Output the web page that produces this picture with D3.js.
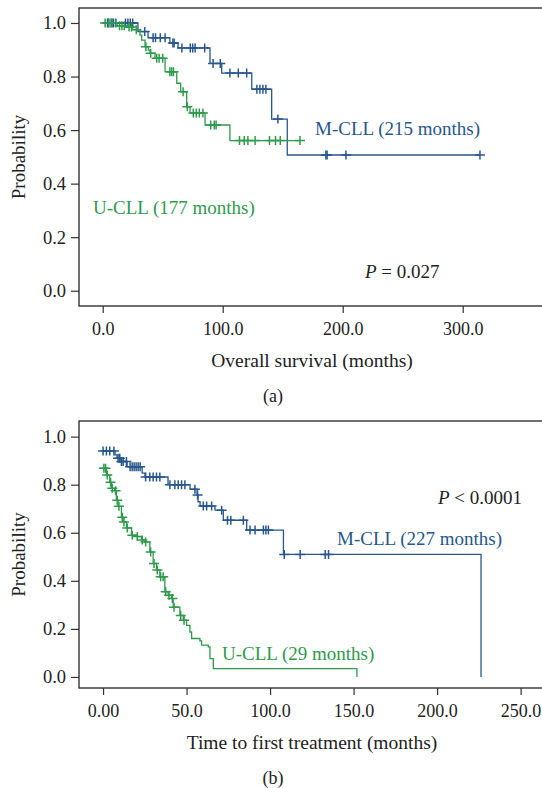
<!DOCTYPE html>
<html lang="en">
<head>
<meta charset="UTF-8">
<script src="https://d3js.org/d3.v7.min.js"></script>
<title>Kaplan-Meier CLL</title>
<style>
  body { margin: 0; background: #fff; }
  svg text { font-family: "Liberation Serif", "Times New Roman", serif; fill: #222; }
</style>
</head>
<body>
<div id="chart"></div>
<script>

// ---- panel (a): overall survival ----
const osTicksX = [0, 100, 200, 300];
const osTickLabelsX = ["0.0", "100.0", "200.0", "300.0"];

const osMTimes = [0, 29.4, 37.8, 56, 62.8, 89.4, 99.2, 124.2, 140.8, 153.8, 314.4];
const osMSurv = [1.0, 0.968, 0.945, 0.925, 0.907, 0.849, 0.813, 0.753, 0.641, 0.507, 0.507];
const osMCensor = [4, 5, 7, 9, 11, 19, 21, 23, 25, 35, 42, 44, 48, 52, 58.5, 59.5, 66, 73, 75, 77, 85,
  92, 98, 106, 113, 120, 128.5, 131, 133.5, 136, 146, 186, 187, 202.7, 314.4];

const osUTimes = [0, 12, 20, 25, 31, 32.5, 35.3, 38, 39.4, 43.6, 52, 61.7, 65, 70, 72.8, 85.3, 106, 164.4];
const osUSurv = [1.0, 0.99, 0.985, 0.975, 0.955, 0.936, 0.911, 0.899, 0.887, 0.868, 0.818, 0.775, 0.743,
  0.687, 0.664, 0.619, 0.561, 0.561];
const osUCensor = [2, 5, 8, 14, 16, 18, 22, 24, 28, 36, 40, 45, 47, 50, 56, 57.5, 59, 67, 70.5, 75.5, 78,
  80.5, 83.5, 90, 93, 94.5, 114, 118, 121, 127, 139, 144, 148, 164.4];

// ---- panel (b): time to first treatment ----
const ttTicksX = [0, 50, 100, 150, 200, 250];
const ttTickLabelsX = ["0.00", "50.0", "100.0", "150.0", "200.0", "250.0"];

const ttMTimes = [0, 7.2, 8.4, 10.2, 14.4, 23.4, 25.1, 38.9, 52.1, 56.3, 56.9, 58.1, 67, 72, 86, 108, 226.3];
const ttMSurv = [0.94, 0.924, 0.91, 0.896, 0.875, 0.848, 0.832, 0.80, 0.781, 0.757, 0.729, 0.711, 0.694,
  0.652, 0.611, 0.51, 0];
const ttMCensor = [0, 2, 4, 6.5, 9, 10, 11, 12, 14, 16.2, 17.4, 18.6, 19.8, 21, 22.2, 25.5, 28, 30, 32, 34,
  40, 43, 45, 47, 49, 55, 56.6, 60, 62, 65, 71, 74.5, 76.5, 84, 88, 91, 96, 97.5, 99, 108.5, 118, 133, 135];

const ttUTimes = [0, 2, 4, 5, 7, 8, 9, 11, 12, 14, 17, 20, 23, 25, 28, 30, 32, 34, 37, 39, 41, 42, 46, 48,
  50, 52, 53, 58, 59, 63, 64, 66, 152];
const ttUSurv = [0.868, 0.84, 0.81, 0.785, 0.775, 0.735, 0.71, 0.665, 0.645, 0.62, 0.59, 0.584, 0.57, 0.562,
  0.52, 0.472, 0.445, 0.417, 0.354, 0.34, 0.326, 0.29, 0.256, 0.236, 0.215, 0.187, 0.16, 0.15, 0.132, 0.125,
  0.076, 0.035, 0];
const ttUCensor = [0.5, 1.5, 2.5, 4.5, 5.5, 7.5, 8.5, 9.5, 11.5, 12.5, 14.5, 17.5, 20.5, 23.5, 25.5, 28.5,
  30.5, 32.5, 34.5, 36, 37.5, 39.5, 41.5, 42.5, 46.5, 48.5];

const probTicks = [0, 0.2, 0.4, 0.6, 0.8, 1.0];

const BLUE = "#27578c", GREEN = "#2f9a4c", AXIS = "#333";

const svg = d3.select("#chart").append("svg")
  .attr("width", 542).attr("height", 788);

const drawPanel = cfg => {
  const x = d3.scaleLinear().domain(cfg.xDomain).range([79, 544]);
  const y = d3.scaleLinear().domain(cfg.yDomain).range([cfg.bottom, cfg.top]);
  const g = svg.append("g");

  // frame (right side runs just past the picture)
  g.append("rect")
    .attr("x", 79).attr("y", cfg.top)
    .attr("width", 465).attr("height", cfg.bottom - cfg.top)
    .attr("fill", "none").attr("stroke", AXIS).attr("stroke-width", 1.4);

  const yAxis = d3.axisLeft(y).tickValues(probTicks).tickFormat(d3.format(".1f"))
    .tickSize(8).tickSizeOuter(0);
  g.append("g").attr("transform", "translate(79,0)").call(yAxis)
    .call(a => a.select(".domain").remove())
    .call(a => a.selectAll("line").attr("stroke", AXIS).attr("stroke-width", 1.2))
    .call(a => a.selectAll("text").attr("font-size", 18.5).attr("fill", "#222")
      .attr("font-family", "Liberation Serif, serif").attr("x", -13));

  const xAxis = d3.axisBottom(x).tickValues(cfg.xTicks)
    .tickFormat((d, i) => cfg.xLabels[i]).tickSize(7).tickSizeOuter(0);
  g.append("g").attr("transform", `translate(0,${cfg.bottom})`).call(xAxis)
    .call(a => a.select(".domain").remove())
    .call(a => a.selectAll("line").attr("stroke", AXIS).attr("stroke-width", 1.2))
    .call(a => a.selectAll("text").attr("font-size", 18).attr("fill", "#222")
      .attr("font-family", "Liberation Serif, serif").attr("y", 16));

  g.append("text")
    .attr("transform", `translate(18,${(cfg.top + cfg.bottom) / 2}) rotate(-90)`)
    .attr("text-anchor", "middle").attr("dy", "0.35em")
    .attr("font-size", 19).text("Probability");

  g.append("text")
    .attr("x", 312).attr("y", cfg.bottom + 54).attr("dy", "0.35em")
    .attr("text-anchor", "middle").attr("font-size", 19.5).text(cfg.xTitle);

  g.append("text")
    .attr("x", 273).attr("y", cfg.bottom + 90).attr("dy", "0.35em")
    .attr("text-anchor", "middle").attr("font-size", 18).text(cfg.tag);

  const line = d3.line().curve(d3.curveStepAfter)
    .x(d => x(d[0])).y(d => y(d[1]));

  cfg.series.forEach(s => {
    const pts = s.times.map((t, i) => [t, s.surv[i]]);
    g.append("path").attr("d", line(pts))
      .attr("fill", "none").attr("stroke", s.color).attr("stroke-width", 1.3);

    const survAt = t => s.surv[Math.max(0, d3.bisectRight(s.times, t) - 1)];
    g.append("g").selectAll("path")
      .data(s.censor)
      .join("path")
      .attr("d", t => {
        const cx = x(t), cy = y(survAt(t));
        return `M${cx - 5},${cy}H${cx + 5}M${cx},${cy - 4.5}V${cy + 4.5}`;
      })
      .attr("stroke", s.color).attr("stroke-width", 1.5).attr("fill", "none");

    g.append("text")
      .attr("x", s.label[0]).attr("y", s.label[1]).attr("dy", "0.35em")
      .attr("font-size", 19).style("fill", s.color).text(s.name);
  });

  const p = g.append("text")
    .attr("x", cfg.pPos[0]).attr("y", cfg.pPos[1]).attr("dy", "0.35em")
    .attr("font-size", 19);
  p.append("tspan").attr("font-style", "italic").text("P");
  p.append("tspan").text(cfg.pText);
};

drawPanel({
  top: 8, bottom: 306,
  xDomain: [-19.75, 367.75], yDomain: [-0.057, 1.056],
  xTicks: osTicksX, xLabels: osTickLabelsX,
  xTitle: "Overall survival (months)", tag: "(a)",
  pPos: [365, 271], pText: " = 0.027",
  series: [
    { name: "M-CLL (215 months)", color: BLUE, times: osMTimes, surv: osMSurv, censor: osMCensor, label: [315, 128] },
    { name: "U-CLL (177 months)", color: GREEN, times: osUTimes, surv: osUSurv, censor: osUCensor, label: [93, 207] }
  ]
});

drawPanel({
  top: 421, bottom: 688,
  xDomain: [-14.4, 264], yDomain: [-0.046, 1.065],
  xTicks: ttTicksX, xLabels: ttTickLabelsX,
  xTitle: "Time to first treatment (months)", tag: "(b)",
  pPos: [438, 497], pText: " < 0.0001",
  series: [
    { name: "M-CLL (227 months)", color: BLUE, times: ttMTimes, surv: ttMSurv, censor: ttMCensor, label: [337, 538] },
    { name: "U-CLL (29 months)", color: GREEN, times: ttUTimes, surv: ttUSurv, censor: ttUCensor, label: [222, 653] }
  ]
});

</script>
</body>
</html>
